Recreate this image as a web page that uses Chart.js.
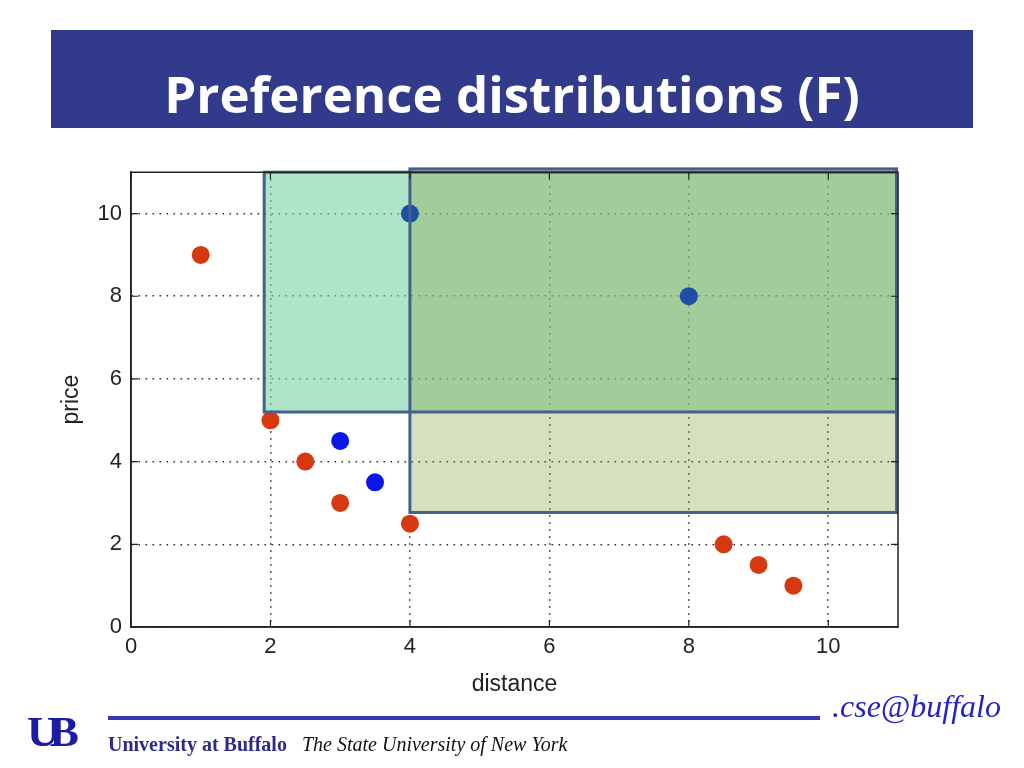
<!DOCTYPE html>
<html>
<head>
<meta charset="utf-8">
<script src="https://cdn.jsdelivr.net/npm/chart.js@4.4.1/dist/chart.umd.min.js"></script>
<style>
  html,body{margin:0;padding:0;background:#fff;}
  body{width:1024px;height:768px;position:relative;overflow:hidden;font-family:"Liberation Sans",Arial,sans-serif;}
  #titlebar{position:absolute;left:51px;top:30px;width:922px;height:98px;background:#323b8b;}
  #titlebar div{position:absolute;left:0;right:0;top:33px;text-align:center;color:#fff;font-family:"Open Sans",sans-serif;font-weight:700;font-size:51px;letter-spacing:0px;line-height:60px;}
  #chartwrap{position:absolute;left:40px;top:150px;width:940px;height:560px;}
  #ubline{position:absolute;left:108px;top:716px;width:712px;height:4px;background:#3636b4;}
  #logo{position:absolute;left:27px;top:710px;font-family:"Liberation Serif",serif;font-weight:700;font-size:42px;line-height:44px;color:#1b1ba6;letter-spacing:-9px;transform:scaleX(1.05);transform-origin:left;}
  #uab{position:absolute;left:108px;top:733px;font-family:"Liberation Serif",serif;font-weight:700;font-size:20px;color:#2c2c8a;}
  #suny{position:absolute;left:302px;top:733px;font-family:"Liberation Serif",serif;font-style:italic;font-size:20px;color:#111;}
  #cse{position:absolute;left:832px;top:688px;font-family:"Liberation Serif",serif;font-style:italic;font-size:32px;color:#2323c8;}
</style>
</head>
<body>
<div id="titlebar"><div>Preference distributions (F)</div></div>
<div id="chartwrap"><canvas id="c" width="940" height="560"></canvas></div>
<div id="logo">UB</div>
<div id="ubline"></div>
<div id="uab">University at Buffalo</div>
<div id="suny">The State University of New York</div>
<div id="cse">.cse@buffalo</div>
<script>
// ---- data ----
const xTicks = [0, 2, 4, 6, 8, 10];
const yTicks = [0, 2, 4, 6, 8, 10];
const redX = [1, 2, 2.5, 3, 4, 8.5, 9, 9.5];
const redY = [9, 5, 4, 3, 2.5, 2, 1.5, 1];
const blueX = [3, 3.5];
const blueY = [4.5, 3.5];
const shadedBlueX = [4, 8];
const shadedBlueY = [10, 8];
// preference regions: [xFrom, xTo, yFrom, yTo]
const regionA = [1.91, 10.98, 5.2, 11.0];
const regionB = [4.0, 10.98, 2.77, 11.08];

const pts = (xs, ys) => xs.map((x, i) => ({x: x, y: ys[i]}));

const regionStyle = [
  {r: regionA, fill: 'rgba(123,210,163,0.6)'},
  {r: regionB, fill: 'rgba(127,155,58,0.32)'}
];

function rectPx(chart, r) {
  const xs = chart.scales.x, ys = chart.scales.y;
  const x0 = xs.getPixelForValue(r[0]), x1 = xs.getPixelForValue(r[1]);
  const y0 = ys.getPixelForValue(r[3]), y1 = ys.getPixelForValue(r[2]);
  return [x0, y0, x1 - x0, y1 - y0];
}

const regionsPlugin = {
  id: 'regions',
  beforeDatasetsDraw(chart) {
    const ctx = chart.ctx;
    ctx.save();
    regionStyle.forEach(s => {
      const p = rectPx(chart, s.r);
      ctx.fillStyle = s.fill;
      ctx.fillRect(p[0], p[1], p[2], p[3]);
    });
    ctx.restore();
  },
  afterDatasetsDraw(chart) {
    const ctx = chart.ctx;
    ctx.save();
    ctx.strokeStyle = '#43618c';
    ctx.lineWidth = 3;
    regionStyle.forEach(s => {
      const p = rectPx(chart, s.r);
      ctx.strokeRect(p[0], p[1], p[2], p[3]);
    });
    ctx.restore();
  },
  afterDraw(chart) {
    const ctx = chart.ctx, a = chart.chartArea;
    const xs = chart.scales.x, ys = chart.scales.y;
    ctx.save();
    ctx.setLineDash([]);
    ctx.strokeStyle = '#222';
    ctx.lineWidth = 1.5;
    ctx.beginPath();
    ctx.moveTo(a.left, a.top); ctx.lineTo(a.right, a.top); ctx.lineTo(a.right, a.bottom);
    ctx.lineTo(a.left, a.bottom); ctx.lineTo(a.left, a.top);
    ctx.stroke();
    ctx.lineWidth = 1.2;
    ctx.beginPath();
    xTicks.forEach(v => {
      const px = xs.getPixelForValue(v);
      ctx.moveTo(px, a.bottom); ctx.lineTo(px, a.bottom - 7);
      ctx.moveTo(px, a.top); ctx.lineTo(px, a.top + 7);
    });
    yTicks.forEach(v => {
      const py = ys.getPixelForValue(v);
      ctx.moveTo(a.left, py); ctx.lineTo(a.left + 7, py);
      ctx.moveTo(a.right, py); ctx.lineTo(a.right - 7, py);
    });
    ctx.stroke();
    ctx.restore();
  }
};

const tickFont = {family: '"Liberation Sans", Arial, sans-serif', size: 22};
const titleFont = {family: '"Liberation Sans", Arial, sans-serif', size: 23};

new Chart(document.getElementById('c'), {
  type: 'scatter',
  data: {
    datasets: [
      {data: pts(redX, redY), backgroundColor: '#d8380f', borderColor: '#d8380f', pointRadius: 9, borderWidth: 0},
      {data: pts(blueX, blueY), backgroundColor: '#0b16e8', borderColor: '#0b16e8', pointRadius: 9, borderWidth: 0},
      {data: pts(shadedBlueX, shadedBlueY), backgroundColor: '#1f4ea6', borderColor: '#1f4ea6', pointRadius: 9, borderWidth: 0}
    ]
  },
  options: {
    responsive: false,
    animation: false,
    events: [],
    layout: {padding: {left: 14, top: 21, right: 82, bottom: 10}},
    plugins: {legend: {display: false}, tooltip: {enabled: false}},
    scales: {
      x: {
        type: 'linear', min: 0, max: 11,
        afterBuildTicks(s) { s.ticks = xTicks.map(v => ({value: v})); },
        afterFit(s) { s.height = 73; },
        grid: {color: '#333', lineWidth: 1.6, drawTicks: false},
        border: {display: true, color: '#222', width: 1.5, dash: [1.6, 5.4]},
        ticks: {font: tickFont, color: '#222', padding: 7, maxRotation: 0},
        title: {display: true, text: 'distance', font: titleFont, color: '#222', padding: {top: 2, bottom: 2}}
      },
      y: {
        type: 'linear', min: 0, max: 11,
        afterBuildTicks(s) { s.ticks = yTicks.map(v => ({value: v})); },
        afterFit(s) { s.width = 77; },
        grid: {color: '#333', lineWidth: 1.6, drawTicks: false},
        border: {display: true, color: '#222', width: 1.5, dash: [1.6, 5.4]},
        ticks: {font: tickFont, color: '#222', padding: 9},
        title: {display: true, text: 'price', font: titleFont, color: '#222', padding: {top: 4, bottom: 4}}
      }
    }
  },
  plugins: [regionsPlugin]
});
</script>
</body>
</html>
